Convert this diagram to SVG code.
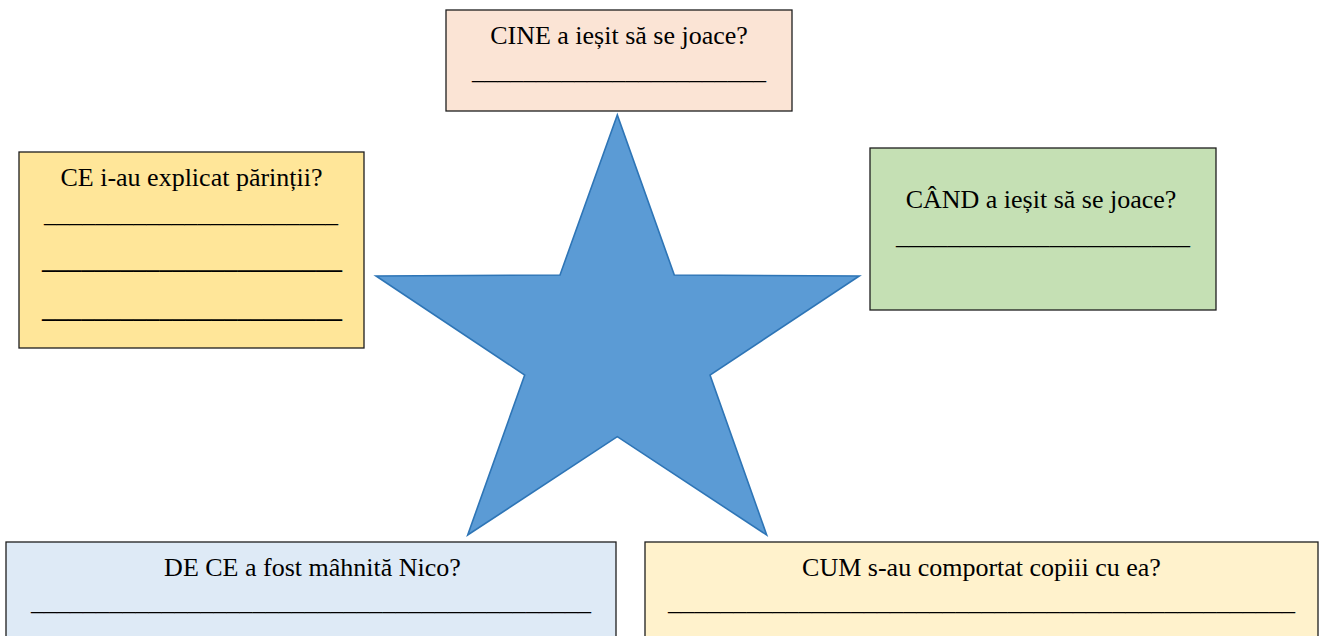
<svg xmlns="http://www.w3.org/2000/svg" width="1322" height="636" viewBox="0 0 1322 636">
<style>
.box{stroke:#1e1e1e;stroke-width:1.3}
.t{font-family:"Liberation Serif","Times New Roman",serif;font-size:26px;fill:#000;text-anchor:middle}
.u{font-family:"Liberation Serif","Times New Roman",serif;font-size:26px;fill:#000}
.ub{font-family:"Liberation Serif","Times New Roman",serif;font-size:26px;fill:#000;font-weight:bold}
</style>
<rect width="1322" height="636" fill="#fff"/>
<g id="star">
<polygon points="617.3,115 560,275 376,276 524.7,375 467.7,535 617.3,436.7 766.7,535 710,375 859.3,276 674.3,275" fill="#5B9BD5" stroke="#2E75B6" stroke-width="1.6" stroke-linejoin="miter"/>
</g>
<g id="cine">
<rect class="box" x="446" y="10" width="346" height="101" fill="#FBE4D5"/>
<text class="t" x="619" y="44">CINE a ieșit să se joace?</text>
<text class="u" x="472" y="79" textLength="294" lengthAdjust="spacingAndGlyphs">_______________________</text>
</g>
<g id="ce">
<rect class="box" x="19" y="152" width="345" height="196" fill="#FFE699"/>
<text class="t" x="191.5" y="186">CE i-au explicat părinții?</text>
<text class="u" x="44" y="222" textLength="294" lengthAdjust="spacingAndGlyphs">_______________________</text>
<text class="ub" x="42" y="268" textLength="300" lengthAdjust="spacingAndGlyphs">_______________________</text>
<text class="ub" x="42" y="317" textLength="300" lengthAdjust="spacingAndGlyphs">_______________________</text>
</g>
<g id="cand">
<rect class="box" x="870" y="148" width="346" height="162" fill="#C5E0B4"/>
<text class="t" x="1041" y="208">CÂND a ieșit să se joace?</text>
<text class="u" x="896" y="244" textLength="294" lengthAdjust="spacingAndGlyphs">_______________________</text>
</g>
<g id="de-ce">
<rect class="box" x="6" y="542" width="610" height="100" fill="#DEEAF6"/>
<text class="t" x="312.5" y="576">DE CE a fost mâhnită Nico?</text>
<text class="u" x="31" y="610" textLength="560" lengthAdjust="spacingAndGlyphs">___________________________________________</text>
</g>
<g id="cum">
<rect class="box" x="645" y="542" width="673" height="100" fill="#FFF2CC"/>
<text class="t" x="981.5" y="576">CUM s-au comportat copiii cu ea?</text>
<text class="u" x="668" y="610" textLength="627" lengthAdjust="spacingAndGlyphs">________________________________________________</text>
</g>
<g id="connectors"></g>
</svg>
